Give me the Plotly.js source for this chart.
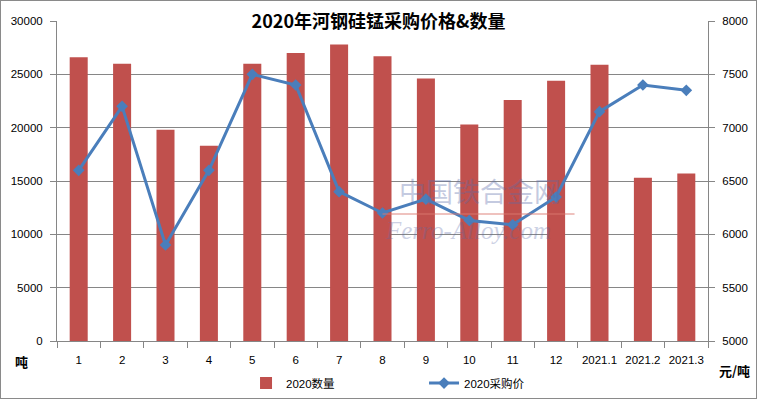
<!DOCTYPE html>
<html><head><meta charset="utf-8">
<script src="https://cdn.plot.ly/plotly-3.0.1.min.js"></script>
<style>html,body{margin:0;padding:0;background:#fff;}#c{width:757px;height:399px;}
#f{position:absolute;left:0;top:0;width:755px;height:397px;border:1px solid #8a8a8a;pointer-events:none;}</style>
</head><body><div id="c"></div><div id="f"></div>
<script>
const categories = ["1","2","3","4","5","6","7","8","9","10","11","12","2021.1","2021.2","2021.3"];
const quantity = [26600,26000,19800,18300,26000,27000,27800,26700,24600,20300,22600,24400,25900,15300,15700];
const price = [6600,7200,5900,6600,7500,7400,6400,6200,6330,6130,6090,6350,7150,7400,7350];

const font = "'Liberation Sans', 'Noto Sans CJK SC', sans-serif";
const traces = [
  {type:'bar', x:categories, y:quantity, name:'2020数量', marker:{color:'#C0504D'}, width:0.415, yaxis:'y'},
  {type:'scatter', mode:'lines+markers', x:categories, y:price, name:'2020采购价', yaxis:'y2',
   line:{color:'#4A7EBB', width:3}, marker:{symbol:'diamond', size:9, color:'#4A7EBB'}}
];
const layout = {
  width:757, height:399,
  margin:{l:57, r:49, t:21, b:58},
  paper_bgcolor:'#fff', plot_bgcolor:'#fff',
  font:{family:font, size:11.5, color:'#000'},
  showlegend:true,
  title:{text:'<b>2020年河钢硅锰采购价格&数量</b>', x:0.5, xanchor:'center', y:0.945, yanchor:'middle',
         font:{family:"'Noto Sans CJK SC', sans-serif", size:18, color:'#000'}},
  xaxis:{type:'category', range:[-0.5,14.5], autorange:false, tickson:'boundaries', ticks:'outside', ticklen:6, tickcolor:'#868686', tickangle:0, automargin:false,
         ticklabelstandoff:8, showline:true, linecolor:'#868686', showgrid:false, tickfont:{size:11.5}},
  yaxis:{range:[0,30000], dtick:5000, tickformat:'d', ticks:'outside', ticklen:6, tickcolor:'#868686', automargin:false,
         ticklabelstandoff:5, showline:true, linecolor:'#868686', gridcolor:'#868686', gridwidth:1, zeroline:false, tickfont:{size:11.5}},
  yaxis2:{range:[5000,8000], dtick:500, tickformat:'d', overlaying:'y', side:'right', ticks:'outside', ticklen:6, tickcolor:'#868686', automargin:false,
          ticklabelstandoff:5, showline:true, linecolor:'#868686', showgrid:false, zeroline:false, tickfont:{size:11.5}},
  legend:{orientation:'h', xref:'container', yref:'container', x:0.325, xanchor:'left', y:0.04, yanchor:'middle', font:{size:11.5},
          entrywidth:133, entrywidthmode:'pixels'},
  shapes:[
    {type:'line', xref:'paper', yref:'paper', x0:0.5, x1:0.795, y0:0.397, y1:0.397, line:{color:'rgba(220,120,110,0.45)', width:2}}
  ],
  annotations:[
    {text:'<b>吨</b>', xref:'paper', yref:'paper', x:-0.054, y:-0.063, xanchor:'center', yanchor:'middle', showarrow:false, font:{size:13, family:"'Noto Sans CJK SC', sans-serif"}},
    {text:'<b>元/吨</b>', xref:'paper', yref:'paper', x:1.041, y:-0.093, xanchor:'center', yanchor:'middle', showarrow:false, font:{size:13, family:"'Noto Sans CJK SC', sans-serif"}},
    {text:'中国铁合金网', xref:'paper', yref:'paper', x:0.65, y:0.469, showarrow:false, opacity:0.35,
     font:{size:27, color:'#5a6aa8', family:"'Noto Sans CJK SC', sans-serif"}},
    {text:'<i>Ferro-Alloy.com</i>', xref:'paper', yref:'paper', x:0.631, y:0.345, showarrow:false, opacity:0.3,
     font:{size:25, color:'#5a6aa8', family:"'Liberation Serif', serif"}}
  ]
};
Plotly.newPlot('c', traces, layout, {displayModeBar:false});
</script></body></html>
